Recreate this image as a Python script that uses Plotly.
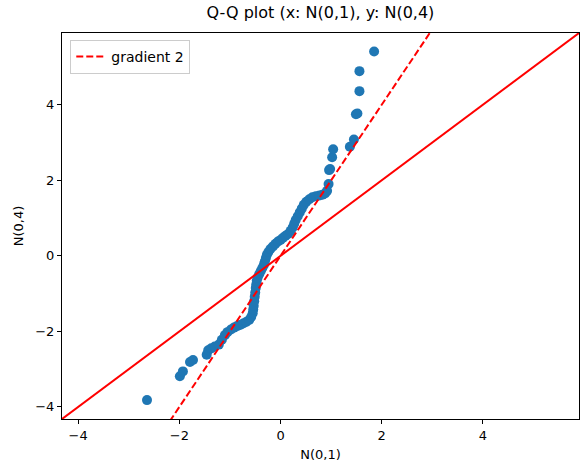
import plotly.graph_objects as go

# Sorted sample quantiles
x_vals = [-2.64, -1.99, -1.93, -1.79, -1.73, -1.46, -1.43, -1.37, -1.30, -1.22,
          -1.16, -1.10, -1.05, -0.98, -0.92, -0.86, -0.80, -0.74, -0.68, -0.62,
          -0.58, -0.55, -0.54, -0.53, -0.52, -0.51, -0.50, -0.49, -0.48, -0.47,
          -0.45, -0.42, -0.39, -0.36, -0.33, -0.31, -0.29, -0.27, -0.24, -0.20,
          -0.15, -0.10, -0.05, 0.00, 0.05, 0.10, 0.15, 0.20, 0.24, 0.27,
          0.30, 0.34, 0.38, 0.42, 0.46, 0.51, 0.57, 0.63, 0.70, 0.77,
          0.83, 0.88, 0.92, 0.95, 0.96, 0.98, 1.02, 1.04, 1.37, 1.45,
          1.49, 1.52, 1.56, 1.56, 1.85]
y_vals = [-3.82, -3.19, -3.06, -2.81, -2.76, -2.62, -2.50, -2.45, -2.40, -2.35,
          -2.22, -2.10, -2.02, -1.95, -1.90, -1.86, -1.83, -1.79, -1.75, -1.70,
          -1.62, -1.52, -1.42, -1.32, -1.20, -1.08, -0.97, -0.85, -0.76, -0.66,
          -0.57, -0.48, -0.40, -0.32, -0.24, -0.15, -0.06, 0.03, 0.10, 0.18,
          0.25, 0.32, 0.38, 0.42, 0.48, 0.53, 0.58, 0.66, 0.75, 0.85,
          0.95, 1.05, 1.15, 1.25, 1.35, 1.43, 1.50, 1.55, 1.58, 1.60,
          1.62, 1.65, 1.72, 1.90, 2.27, 2.30, 2.61, 2.82, 2.89, 3.08,
          3.75, 3.77, 4.36, 4.89, 5.41]

axis_range = [-4.32, 5.9]
tick_vals = [-4, -2, 0, 2, 4]
line_x = [-10, 10]
identity_slope = 1
gradient_slope = 2

fig = go.Figure()
fig.add_trace(go.Scatter(
    x=x_vals, y=y_vals, mode="markers",
    marker=dict(color="#1f77b4", size=10, line=dict(width=0)),
    showlegend=False))
fig.add_trace(go.Scatter(
    x=line_x, y=[identity_slope * v for v in line_x], mode="lines",
    line=dict(color="red", width=2), showlegend=False))
fig.add_trace(go.Scatter(
    x=line_x, y=[gradient_slope * v for v in line_x], mode="lines",
    line=dict(color="red", width=2, dash="7px,3px"), name="gradient 2"))

axis_common = dict(
    range=axis_range, tickvals=tick_vals, showgrid=False, zeroline=False,
    showline=True, linecolor="black", linewidth=1, mirror=True,
    ticks="outside", ticklen=4, tickcolor="black",
    tickfont=dict(size=13, color="black"))

fig.update_layout(
    width=588, height=474,
    margin=dict(l=62, r=9, t=33, b=55),
    paper_bgcolor="white", plot_bgcolor="white",
    font=dict(family="DejaVu Sans", color="black"),
    title=dict(text="Q-Q plot (x: N(0,1), y: N(0,4)", x=0.545, xanchor="center",
               y=0.985, yanchor="top", font=dict(size=16)),
    xaxis=dict(title=dict(text="N(0,1)", font=dict(size=13), standoff=8), **axis_common),
    yaxis=dict(title=dict(text="N(0,4)", font=dict(size=13), standoff=8), **axis_common),
    legend=dict(x=0.016, y=0.982, xanchor="left", yanchor="top",
                bgcolor="rgba(255,255,255,0.8)", bordercolor="#cccccc", borderwidth=1,
                font=dict(size=14), tracegroupgap=0, itemwidth=30),
)

fig.write_html("out.html")
